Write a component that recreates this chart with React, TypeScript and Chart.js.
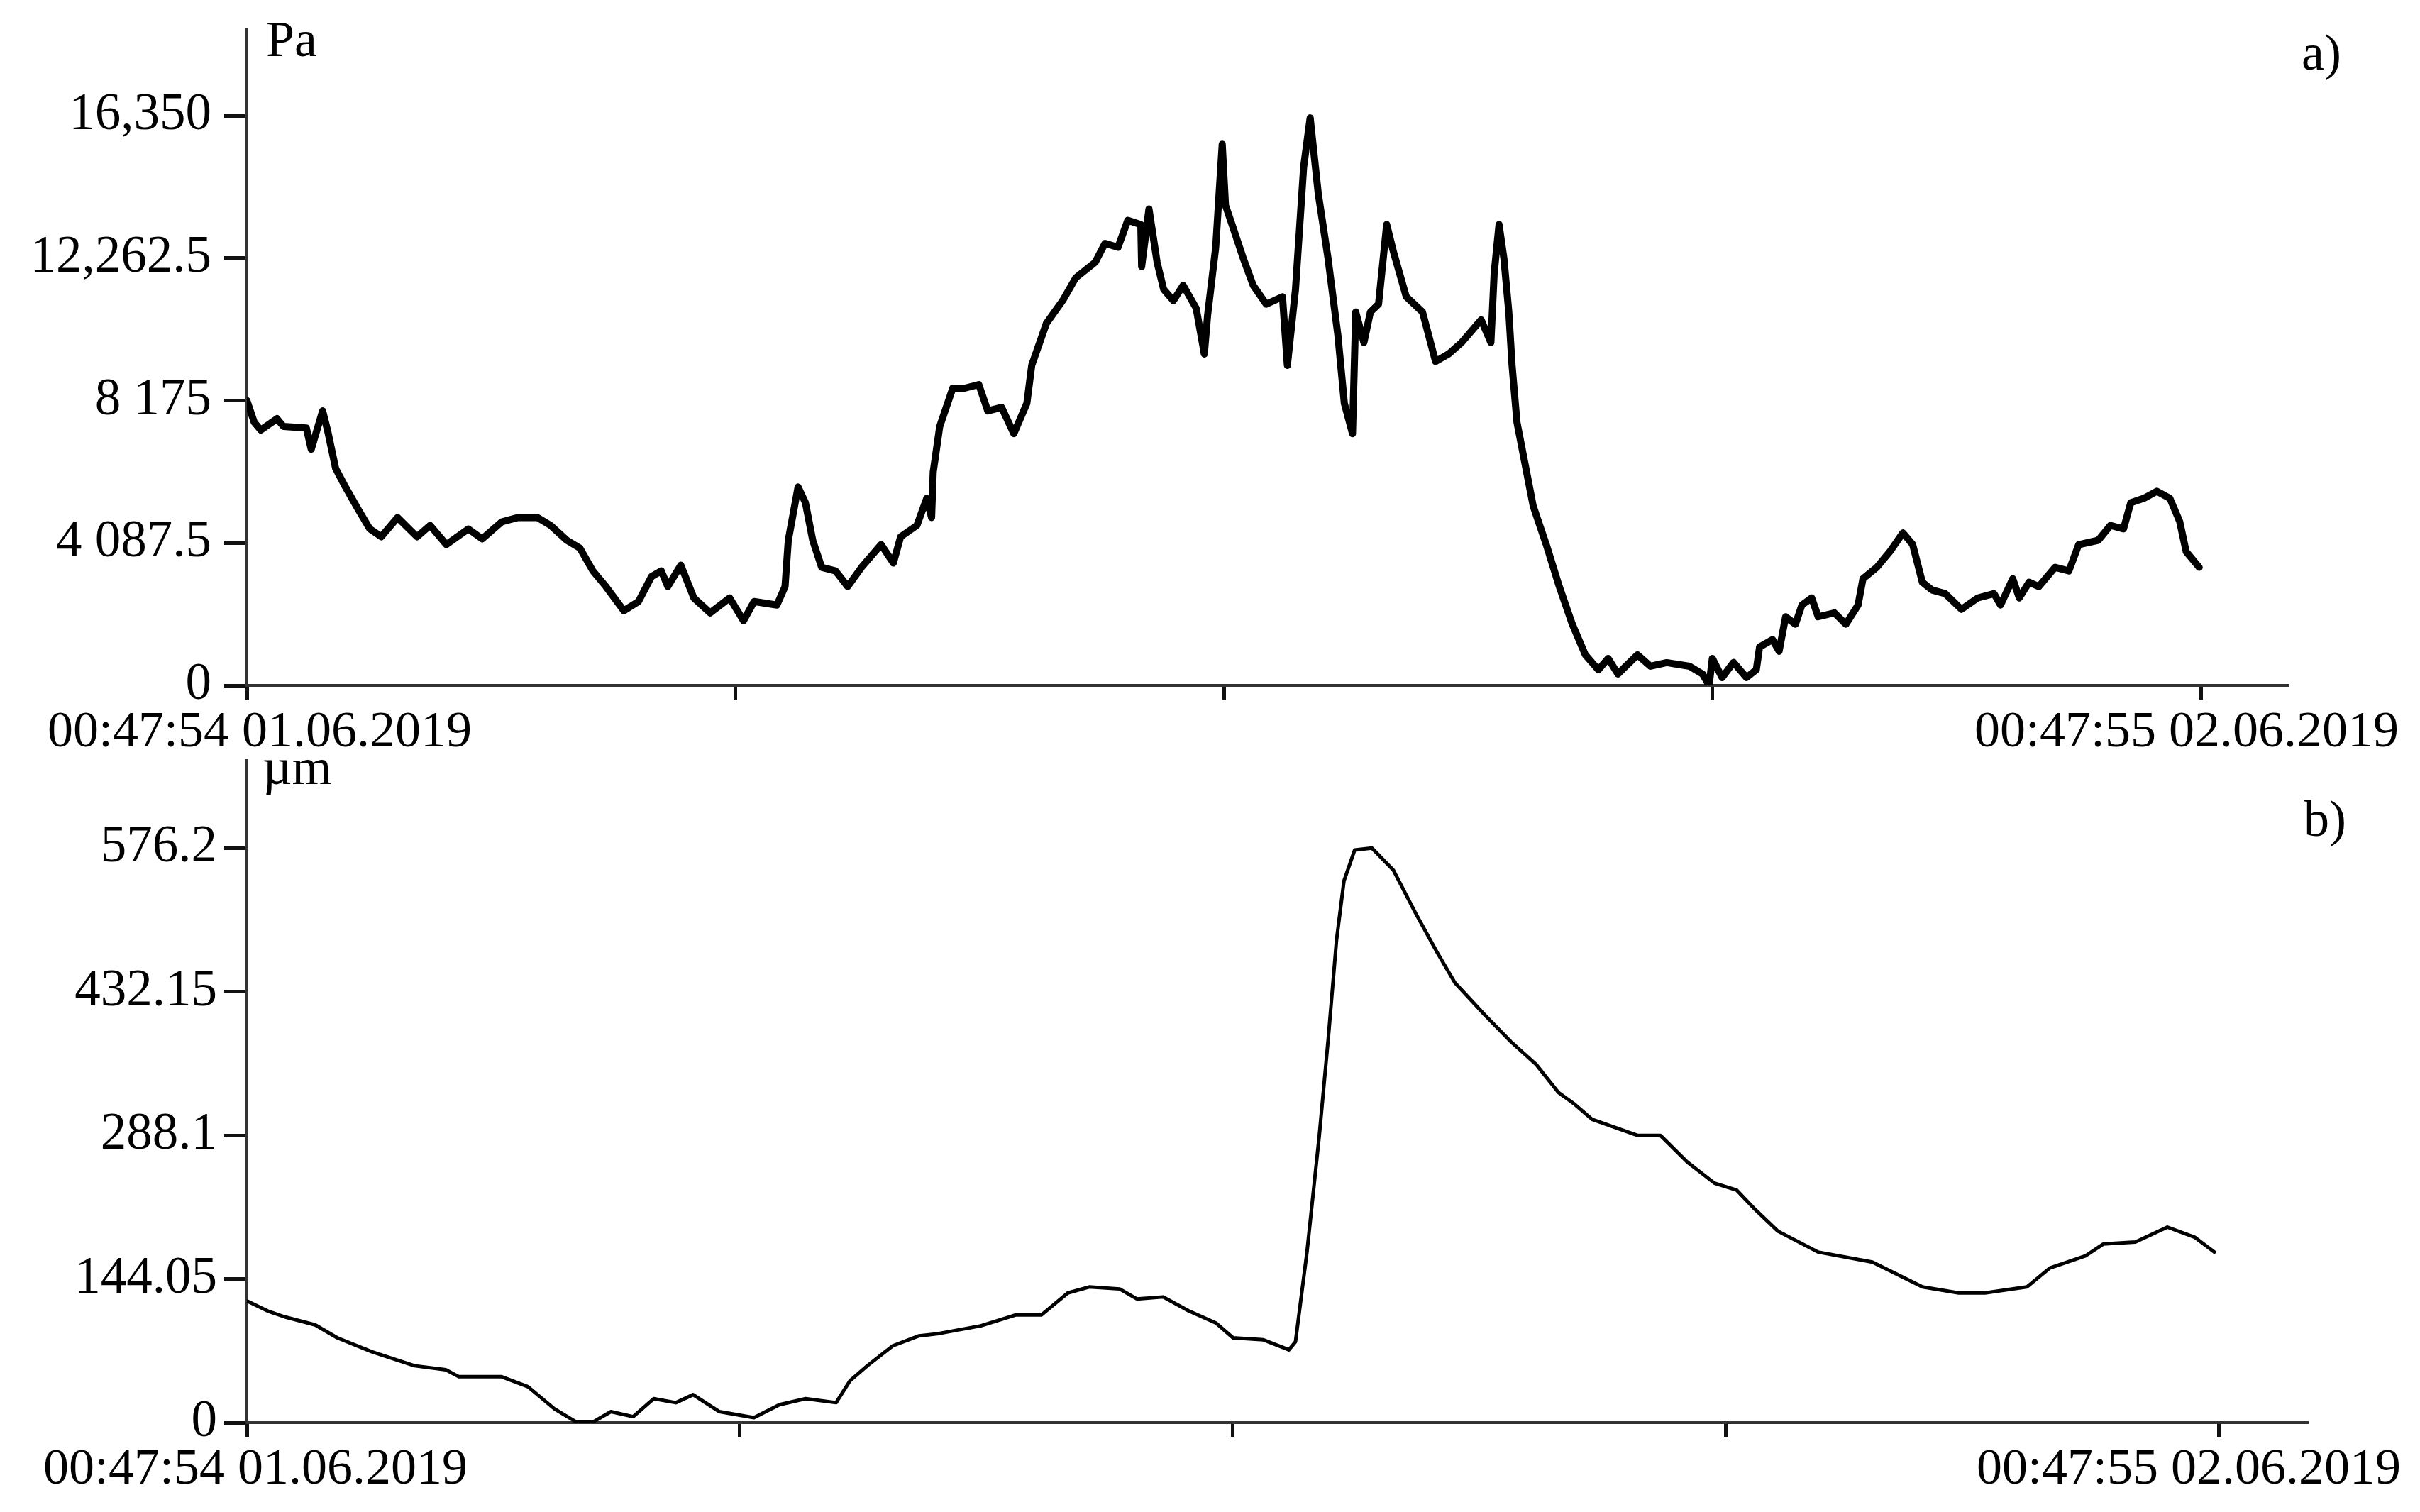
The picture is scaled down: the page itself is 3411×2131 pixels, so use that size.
import React, { useEffect, useRef } from 'react';
import { Chart, registerables } from 'chart.js';

Chart.register(...registerables);

const FONT = '"Liberation Serif", "Times New Roman", serif';

// ---- time axis (hours after the start) ----
const timeTicks = [0, 6, 12, 18, 24];
const startLabel = '00:47:54 01.06.2019';
const endLabel = '00:47:55 02.06.2019';

// ---- a) pressure, Pa ----
const pressureTickValues = [0, 4087.5, 8175, 12262.5, 16350];
const pressureTickLabels = ['0', '4 087.5', '8 175', '12,262.5', '16,350'];
const pressureHours = [
  0.0, 0.09, 0.17, 0.37, 0.45, 0.73, 0.79, 0.93, 0.99, 1.09, 1.21, 1.37, 1.51, 1.65, 1.85, 2.09, 2.25, 2.45,
  2.72, 2.89, 3.13, 3.33, 3.57, 3.73, 3.93, 4.09, 4.25, 4.41, 4.63, 4.81, 4.97, 5.09, 5.17, 5.33, 5.49, 5.69,
  5.93, 6.1, 6.23, 6.51, 6.61, 6.65, 6.77, 6.86, 6.95, 7.06, 7.23, 7.38, 7.55, 7.79, 7.94, 8.03, 8.23, 8.35,
  8.41, 8.43, 8.51, 8.67, 8.82, 8.99, 9.1, 9.27, 9.42, 9.58, 9.64, 9.82, 10.02, 10.18, 10.42, 10.54, 10.7,
  10.82, 10.98, 10.99, 11.08, 11.18, 11.26, 11.38, 11.5, 11.66, 11.76, 11.8, 11.9, 11.98, 12.02, 12.1, 12.24,
  12.36, 12.52, 12.72, 12.78, 12.88, 12.98, 13.06, 13.16, 13.28, 13.4, 13.48, 13.58, 13.62, 13.72, 13.8,
  13.9, 14.0, 14.08, 14.24, 14.44, 14.6, 14.76, 14.92, 15.16, 15.28, 15.32, 15.38, 15.44, 15.5, 15.54, 15.6,
  15.7, 15.8, 15.96, 16.12, 16.28, 16.44, 16.6, 16.72, 16.84, 17.08, 17.24, 17.44, 17.72, 17.88, 17.96, 18.0,
  18.12, 18.26, 18.42, 18.54, 18.58, 18.74, 18.82, 18.9, 19.02, 19.1, 19.22, 19.3, 19.5, 19.64, 19.79, 19.85,
  20.02, 20.18, 20.34, 20.46, 20.58, 20.7, 20.86, 21.06, 21.26, 21.46, 21.54, 21.69, 21.77, 21.89, 22.01,
  22.21, 22.38, 22.5, 22.74, 22.89, 23.05, 23.14, 23.3, 23.46, 23.62, 23.74, 23.82, 23.98,
];
const pressureValues = [
  8175, 7552, 7327, 7654, 7430, 7388, 6776, 7878, 7327, 6225, 5694, 5041, 4490, 4266, 4817, 4266, 4592, 4041,
  4490, 4205, 4694, 4817, 4817, 4592, 4164, 3939, 3286, 2837, 2143, 2408, 3123, 3286, 2837, 3449, 2510, 2082,
  2510, 1857, 2408, 2306, 2837, 4164, 5694, 5245, 4164, 3388, 3286, 2837, 3388, 4041, 3510, 4266, 4592, 5368,
  4817, 6123, 7430, 8531, 8531, 8633, 7878, 7980, 7225, 8093, 9185, 10389, 11042, 11695, 12144, 12685, 12573,
  13348, 13226, 12022, 13675, 12144, 11368, 11042, 11481, 10825, 9511, 10613, 12573, 15532, 13777, 13226, 12246,
  11481, 10940, 11154, 9185, 11368, 14879, 16287, 14103, 12246, 10062, 8093, 7225, 10715, 9838, 10715,
  10940, 13226, 12471, 11154, 10715, 9294, 9511, 9838, 10491, 9838, 11818, 13226, 12246, 10715, 9185, 7552,
  6348, 5143, 4041, 2837, 1755, 878, 449, 776, 327, 878, 551, 653, 551, 327, 0, 776,
  225, 660, 225, 449, 1102, 1314, 980, 1970, 1755, 2306, 2510, 1970, 2082, 1755, 2306, 3062,
  3388, 3837, 4376, 4047, 2960, 2735, 2633, 2184, 2510, 2633, 2306, 3062, 2510, 2960, 2837,
  3388, 3286, 4041, 4164, 4592, 4490, 5245, 5368, 5572, 5368, 4705, 3837, 3388,
];

// ---- b) displacement, µm ----
const dispTickValues = [0, 144.05, 288.1, 432.15, 576.2];
const dispTickLabels = ['0', '144.05', '288.1', '432.15', '576.2'];
const dispHours = [
  0.0, 0.25, 0.46, 0.83, 1.1, 1.52, 2.04, 2.42, 2.58, 3.1, 3.42, 3.74, 4.0, 4.22, 4.43, 4.7, 4.95, 5.22, 5.43,
  5.75, 6.17, 6.48, 6.8, 7.17, 7.34, 7.55, 7.86, 8.18, 8.4, 8.93, 9.36, 9.67, 9.99, 10.25, 10.62, 10.83, 11.15,
  11.46, 11.79, 12.0, 12.37, 12.68, 12.76, 12.9, 13.05, 13.16, 13.26, 13.35, 13.48, 13.69, 13.95, 14.22, 14.48,
  14.7, 15.06, 15.38, 15.69, 15.96, 16.16, 16.37, 16.92, 17.2, 17.53, 17.86, 18.13, 18.35, 18.63, 19.12, 19.78,
  20.39, 20.83, 21.15, 21.66, 21.94, 22.37, 22.59, 22.98, 23.37, 23.7, 23.94,
];
const dispValues = [
  122, 112, 106, 98, 85, 71, 57, 53, 46, 46, 36, 14, 1, 1, 11, 6, 24, 20, 28,
  11, 5, 18, 24, 20, 42, 57, 77, 87, 89, 97, 108, 108, 130, 136, 134, 124, 126,
  112, 100, 85, 83, 73, 81, 171, 288, 386, 484, 543, 574, 576, 554, 511, 472,
  441, 409, 382, 359, 331, 319, 304, 288, 288, 261, 240, 233, 214, 192, 171, 161,
  136, 130, 130, 136, 155, 167, 179, 181, 196, 186, 171,
];

type TextItem = { text: string; x: number; y: number; align: CanvasTextAlign };

const textPlugin = {
  id: 'extraText',
  afterDraw(chart: any) {
    const items: TextItem[] = chart.options.plugins.extraText?.items || [];
    const ctx = chart.ctx;
    ctx.save();
    ctx.fillStyle = '#000';
    ctx.font = `72px ${FONT}`;
    ctx.textBaseline = 'alphabetic';
    for (const it of items) {
      ctx.textAlign = it.align;
      ctx.fillText(it.text, it.x, it.y);
    }
    ctx.restore();
  },
};

function makeConfig(opts: {
  hours: number[];
  values: number[];
  tickValues: number[];
  tickLabels: string[];
  yMax: number;
  lineWidth: number;
  padTop: number;
  padRight: number;
  xHeight: number;
  labelPad: number;
  items: TextItem[];
}): any {
  return {
    type: 'line',
    data: {
      datasets: [
        {
          data: opts.hours.map((h, i) => ({ x: h, y: opts.values[i] })),
          borderColor: '#000',
          borderWidth: opts.lineWidth,
          pointRadius: 0,
          tension: 0,
          fill: false,
          borderJoinStyle: 'round',
          borderCapStyle: 'round',
        },
      ],
    },
    options: {
      animation: false,
      responsive: false,
      maintainAspectRatio: false,
      events: [],
      layout: { padding: { top: opts.padTop, right: opts.padRight, left: 0, bottom: 0 } },
      plugins: {
        legend: { display: false },
        tooltip: { enabled: false },
        extraText: { items: opts.items },
      },
      scales: {
        x: {
          type: 'linear',
          min: 0,
          max: 25.08,
          afterBuildTicks: (s: any) => {
            s.ticks = timeTicks.map((v) => ({ value: v }));
          },
          afterFit: (s: any) => {
            s.height = opts.xHeight;
            s.paddingLeft = 0;
            s.paddingRight = 0;
          },
          grid: { drawOnChartArea: false, drawTicks: true, tickLength: 20, tickWidth: 5, tickColor: '#111' },
          border: { display: true, color: '#333', width: 4 },
          ticks: { display: false },
        },
        y: {
          type: 'linear',
          min: 0,
          max: opts.yMax,
          afterBuildTicks: (s: any) => {
            s.ticks = opts.tickValues.map((v) => ({ value: v }));
          },
          afterFit: (s: any) => {
            s.width = 348;
            s.paddingTop = 0;
            s.paddingBottom = 0;
          },
          grid: { drawOnChartArea: false, drawTicks: true, tickLength: 32, tickWidth: 5, tickColor: '#111' },
          border: { display: true, color: '#333', width: 4 },
          ticks: {
            autoSkip: false,
            color: '#000',
            padding: opts.labelPad,
            font: { family: FONT, size: 73 },
            callback: (_v: any, i: number) => opts.tickLabels[i],
          },
        },
      },
    },
    plugins: [textPlugin],
  };
}

export default function App() {
  const topRef = useRef<HTMLCanvasElement | null>(null);
  const botRef = useRef<HTMLCanvasElement | null>(null);

  useEffect(() => {
    const top = new Chart(
      topRef.current as HTMLCanvasElement,
      makeConfig({
        hours: pressureHours,
        values: pressureValues,
        tickValues: pressureTickValues,
        tickLabels: pressureTickLabels,
        yMax: 18814,
        lineWidth: 10,
        padTop: 42,
        padRight: 185,
        xHeight: 99,
        labelPad: 18,
        items: [
          { text: 'Pa', x: 375, y: 79, align: 'left' },
          { text: 'a)', x: 3244, y: 98, align: 'left' },
          { text: startLabel, x: 67, y: 1052, align: 'left' },
          { text: endLabel, x: 3381, y: 1052, align: 'right' },
        ],
      })
    );
    const bot = new Chart(
      botRef.current as HTMLCanvasElement,
      makeConfig({
        hours: dispHours,
        values: dispValues,
        tickValues: dispTickValues,
        tickLabels: dispTickLabels,
        yMax: 663.7,
        lineWidth: 5,
        padTop: 7,
        padRight: 158,
        xHeight: 126,
        labelPad: 10,
        items: [
          { text: 'µm', x: 370, y: 40, align: 'left' },
          { text: 'b)', x: 3247, y: 113, align: 'left' },
          { text: startLabel, x: 61, y: 1026, align: 'left' },
          { text: endLabel, x: 3384, y: 1026, align: 'right' },
        ],
      })
    );
    return () => {
      top.destroy();
      bot.destroy();
    };
  }, []);

  return (
    <div style={{ position: 'absolute', left: 0, top: 0, width: 3411, height: 2131, background: '#fff', overflow: 'hidden' }}>
      <canvas ref={topRef} width={3411} height={1065} style={{ position: 'absolute', left: 0, top: 0, display: 'block' }} />
      <canvas ref={botRef} width={3411} height={1066} style={{ position: 'absolute', left: 0, top: 1065, display: 'block' }} />
    </div>
  );
}
